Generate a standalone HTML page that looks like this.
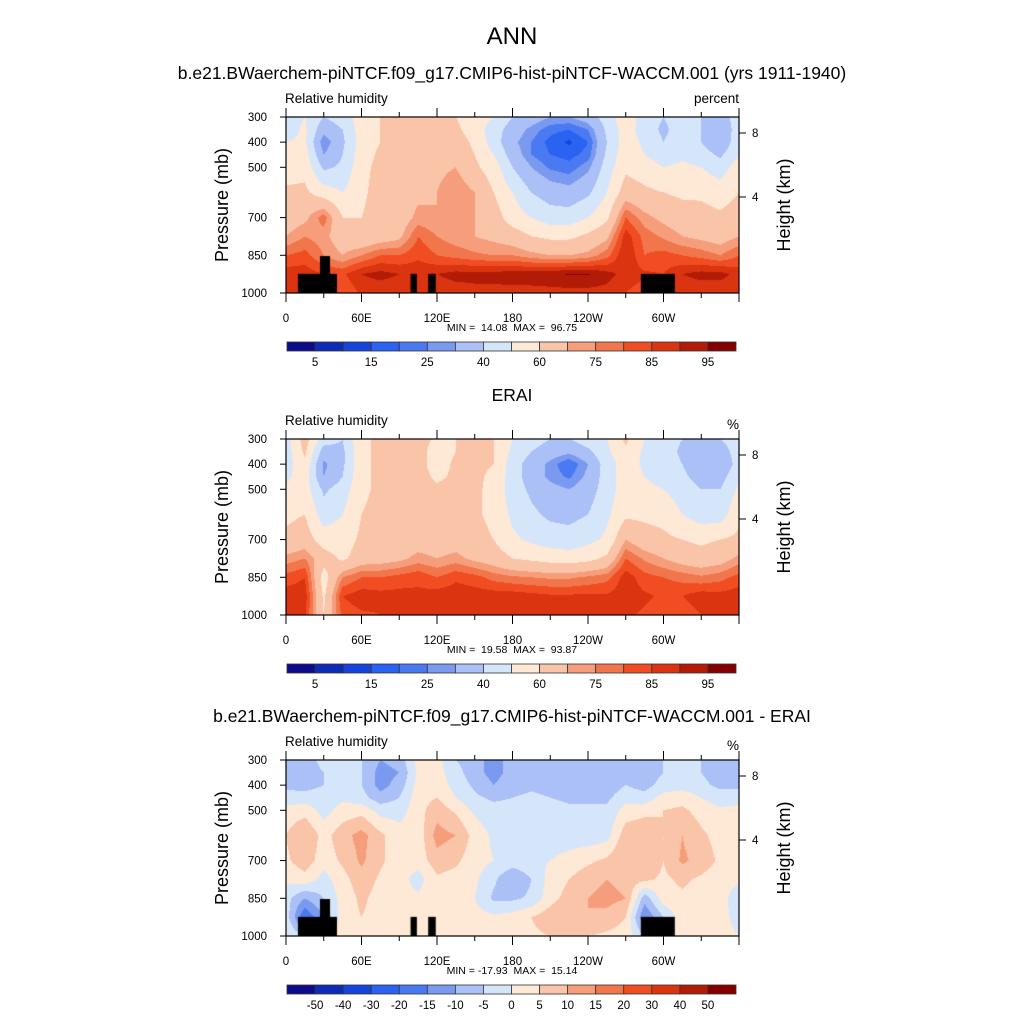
<!DOCTYPE html>
<html><head><meta charset="utf-8"><style>
html,body{margin:0;padding:0;background:#fff}
#root{position:relative;width:1024px;height:1024px;overflow:hidden;font-family:"Liberation Sans",sans-serif}
canvas{position:absolute}
svg{position:absolute;left:0;top:0}
text{white-space:pre}
</style></head><body>
<div id="root">
<canvas id="c0" width="453" height="176" style="left:286px;top:117px"></canvas>
<canvas id="c1" width="453" height="176" style="left:286px;top:439px"></canvas>
<canvas id="c2" width="453" height="176" style="left:286px;top:760px"></canvas>
<svg id="svg" width="1024" height="1024" xmlns="http://www.w3.org/2000/svg"></svg>
</div>
<script>
const lons=[0,15,30,45,60,75,90,105,120,135,150,165,180,195,210,225,240,255,270,285,300,315,330,345,360];
const levels=[300,350,400,450,500,600,700,775,850,925,1000];
const rhModel=[
[45,50,40,45,55,60,60,62,65,60,55,50,40,35,30,30,35,45,57,45,40,45,40,35,45],
[45,52,33,40,55,60,62,63,65,62,55,45,35,28,22,20,25,42,55,45,38,45,40,32,45],
[50,52,25,38,55,60,62,64,66,65,58,45,32,25,18,14,20,40,55,48,40,45,40,30,48],
[52,55,30,40,55,62,63,65,67,66,60,50,35,25,20,18,22,42,57,50,45,48,45,38,50],
[55,57,38,42,57,63,63,66,68,70,62,55,40,30,24,22,28,45,58,55,50,52,50,45,55],
[62,62,55,50,58,64,64,68,70,75,70,60,50,40,35,33,38,50,65,62,60,58,58,55,60],
[65,68,78,60,60,64,65,72,70,73,70,65,55,50,45,45,50,58,80,72,68,65,64,62,65],
[70,75,72,65,62,65,68,80,75,72,70,68,65,60,58,58,62,68,88,78,74,70,68,66,70],
[80,82,75,70,75,80,80,84,80,78,76,75,75,72,70,70,72,78,90,80,82,80,78,75,80],
[88,88,85,84,90,92,90,88,90,92,92,92,93,93,94,95.5,95.5,92,88,86,85,90,92,92,88],
[85,85,80,80,86,86,86,85,86,87,88,88,88,88,88,88,88,88,85,82,84,86,86,86,85]];
const rhERAI=[
[45,65,45,40,58,62,68,65,58,60,62,60,50,45,40,40,45,50,62,50,45,40,38,40,45],
[45,62,35,38,58,62,66,64,55,60,62,60,48,40,35,32,38,48,58,48,45,38,35,35,45],
[45,58,28,38,58,62,65,64,55,62,62,60,45,35,28,20,30,45,55,48,45,40,33,30,45],
[48,55,30,40,58,62,65,64,58,62,62,58,45,35,28,24,32,45,55,50,47,42,36,36,48],
[52,55,38,45,58,62,64,64,62,63,62,57,45,38,33,30,35,45,55,52,50,45,40,40,52],
[58,60,45,50,60,63,64,64,63,64,62,57,48,42,38,37,40,48,58,58,57,50,45,45,58],
[62,65,55,55,62,64,65,66,65,66,64,60,52,48,45,44,47,52,70,64,62,60,58,60,62],
[72,75,65,58,65,66,68,72,70,72,68,65,60,58,56,55,57,62,80,74,70,66,64,66,72],
[82,85,55,75,80,80,82,84,80,84,82,78,76,75,74,74,76,78,88,82,80,78,76,78,82],
[88,88,58,85,88,87,87,86,88,88,88,88,88,87,86,86,86,86,88,86,84,85,88,87,88],
[86,86,60,82,84,85,85,85,85,85,85,85,85,85,85,85,85,85,86,84,82,82,85,85,86]];
const rhDiff=[
[-5,-8,-3,-2,-5,-10,-8,2,2,-5,-8,-12,-8,-5,-5,-5,-7,-8,-5,-8,-5,-3,-5,-7,-5],
[-5,-8,-5,-3,-5,-12,-10,1,2,-3,-8,-12,-8,-6,-6,-7,-8,-10,-5,-8,-5,-3,-5,-7,-5],
[-6,-7,-5,-3,-5,-12,-8,2,3,-2,-6,-10,-7,-6,-7,-7,-7,-8,-5,-7,-3,-2,-4,-6,-6],
[-3,-3,-2,-1,-3,-8,-5,3,5,0,-4,-6,-5,-4,-5,-6,-6,-6,-2,-3,2,3,0,-3,-3],
[2,3,-2,2,3,-2,-2,3,8,4,-1,-3,-3,-3,-3,-4,-4,-4,2,3,5,6,3,1,2],
[5,10,3,8,12,6,2,2,12,10,3,-1,-3,-3,-3,-3,-3,-2,8,10,5,10,6,3,5],
[4,8,2,6,11,6,2,2,8,6,2,0,-2,-1,0,2,4,6,10,10,5,11,8,4,4],
[1,3,-2,3,8,4,2,-2,4,3,1,-4,-10,-5,2,5,8,10,8,6,4,6,4,2,1],
[-3,-10,-5,2,6,3,2,1,3,2,0,-6,-6,-4,3,7,10,12,10,-8,3,4,3,2,-3],
[-2,-20,-10,3,5,3,2,2,3,3,2,1,2,5,8,10,10,8,5,-15,-5,3,3,2,-2],
[0,-5,-3,3,4,2,2,2,3,3,2,2,3,4,5,6,5,4,3,-5,0,3,3,2,0]];
const levAbs=[5,10,15,20,25,30,40,50,60,70,75,80,85,90,95];
const levDiff=[-50,-40,-30,-20,-15,-10,-5,0,5,10,15,20,30,40,50];
const palette=["#0c0c8a","#0c2cb8","#1444dc","#2a62f2","#4a7af2","#7a9af0","#aac0f6","#d6e6fa","#fee8d6","#fac4a8","#f69e7c","#f2764c","#f04e22","#da3410","#b21c06","#840000"];
const absLabels=["5","15","25","40","60","75","85","95"];
const diffLabels=["-50","-40","-30","-20","-15","-10","-5","0","5","10","15","20","30","40","50"];
const lonTicks=[0,60,120,180,240,300];
const lonTickLabels=["0","60E","120E","180","120W","60W"];
const pTicks=[300,400,500,700,850,1000];
const topoLon0=[9.5,27,99,113,282];
const topoLon1=[40.5,35,104,119,309];
const topoTop=[924,853,924,924,924];

const PX=286,PW=453,PH=176;
const panelTops=[117,439,760];
function xOf(lon){return PX+lon/360*PW;}
function yOf(p,top){return top+(p-300)/700*PH;}
function hex(c){return [parseInt(c.slice(1,3),16),parseInt(c.slice(3,5),16),parseInt(c.slice(5,7),16)];}
const pal=palette.map(hex);
function sample(grid,lon,p){
  let i=Math.min(lons.length-2,Math.floor(lon/15));let fx=(lon-lons[i])/15;
  let j=0;while(j<levels.length-2&&p>levels[j+1])j++;
  let fy=(p-levels[j])/(levels[j+1]-levels[j]);
  const a=grid[j][i],b=grid[j][i+1],c=grid[j+1][i],d=grid[j+1][i+1];
  return (a*(1-fx)+b*fx)*(1-fy)+(c*(1-fx)+d*fx)*fy;
}
function idx(v,lev){let k=0;while(k<lev.length&&v>=lev[k])k++;return k;}
function drawField(id,grid,lev,topo){
  const cv=document.getElementById(id),ctx=cv.getContext('2d');
  const img=ctx.createImageData(PW,PH);
  for(let y=0;y<PH;y++){const p=300+(y+0.5)/PH*700;
    for(let x=0;x<PW;x++){const lon=(x+0.5)/PW*360;
      const c=pal[idx(sample(grid,lon,p),lev)];const o=(y*PW+x)*4;
      img.data[o]=c[0];img.data[o+1]=c[1];img.data[o+2]=c[2];img.data[o+3]=255;}}
  ctx.putImageData(img,0,0);
  if(topo){ctx.fillStyle="#000";
    for(let k=0;k<topoLon0.length;k++){
      const x0=topoLon0[k]/360*PW,x1=topoLon1[k]/360*PW,y0=(topoTop[k]-300)/700*PH;
      ctx.fillRect(x0,y0,x1-x0,PH-y0);}}
}
drawField('c0',rhModel,levAbs,true);
drawField('c1',rhERAI,levAbs,false);
drawField('c2',rhDiff,levDiff,true);

const svg=document.getElementById('svg');const NS="http://www.w3.org/2000/svg";
function el(tag,attrs,parent){const e=document.createElementNS(NS,tag);for(const k in attrs)e.setAttribute(k,attrs[k]);(parent||svg).appendChild(e);return e;}
function txt(s,x,y,size,anchor,name,extra){const t=el('text',Object.assign({x:x,y:y,'font-size':size,'text-anchor':anchor||'start','font-family':'Liberation Sans, sans-serif',fill:'#000'},extra||{}));t.textContent=s;


return t;}

txt("ANN",512,44,24,"middle","main-title");
const titles=["b.e21.BWaerchem-piNTCF.f09_g17.CMIP6-hist-piNTCF-WACCM.001 (yrs 1911-1940)","ERAI","b.e21.BWaerchem-piNTCF.f09_g17.CMIP6-hist-piNTCF-WACCM.001 - ERAI"];
const units=["percent","%","%"];
const minmax=["MIN =  14.08  MAX =  96.75","MIN =  19.58  MAX =  93.87","MIN = -17.93  MAX =  15.14"];
const titleY=[79,401,722];
panelTops.forEach((top,k)=>{
  const g=el('g',{});
  
  
  txt(titles[k],512,titleY[k],17.5,"middle","panel-title");
  txt("Relative humidity",285,top-14,13.5,"start","variable-label");
  txt(units[k],739,top-(k==0?14:10),13.5,"end","units-label");
  const fr=el('rect',{x:PX,y:top,width:PW,height:PH,fill:'none',stroke:'#000','stroke-width':1.2},g);
  
  
  for(let lon=0;lon<=360;lon+=30){const x=xOf(lon);const L=(lon%60==0)?9:5;
    el('line',{x1:x,y1:top+PH,x2:x,y2:top+PH+L,stroke:'#000','stroke-width':1},g);
    el('line',{x1:x,y1:top,x2:x,y2:top-L,stroke:'#000','stroke-width':1},g);}
  lonTicks.forEach((lon,i)=>txt(lonTickLabels[i],xOf(lon),top+PH+29,11.5,"middle","x-tick-label"));
  pTicks.forEach(p=>{const y=yOf(p,top);el('line',{x1:PX,y1:y,x2:PX-6,y2:y,stroke:'#000'},g);
    txt(String(p),267,y+4,11.5,"end","y-tick-label");});
  [[8,16],[4,80]].forEach(h=>{const y=top+h[1];el('line',{x1:PX+PW,y1:y,x2:PX+PW+7,y2:y,stroke:'#000'},g);
    txt(String(h[0]),752,y+4,11.5,"start","height-tick-label");});
  txt("Pressure (mb)",0,0,18,"middle","y-axis-title",{transform:`translate(228,${top+88}) rotate(-90)`});
  txt("Height (km)",0,0,18,"middle","right-axis-title",{transform:`translate(790,${top+88}) rotate(-90)`});
  txt(minmax[k],512,top+PH+38,10.5,"middle","min-max-label");
  const cy=top+225,cx=287,cw=449,ch=9,n=16;
  for(let i=0;i<n;i++){const r=el('rect',{x:cx+i*cw/n,y:cy,width:cw/n,height:ch,fill:palette[i],stroke:'#333','stroke-width':0.8},g);
    
    }
  if(k<2){absLabels.forEach((s,i)=>txt(s,cx+(2*i+1)*cw/n,cy+24,11.5,"middle","colorbar-label"));}
  else{diffLabels.forEach((s,i)=>txt(s,cx+(i+1)*cw/n,cy+24,11.5,"middle","colorbar-label"));}
});
</script>
</body></html>
